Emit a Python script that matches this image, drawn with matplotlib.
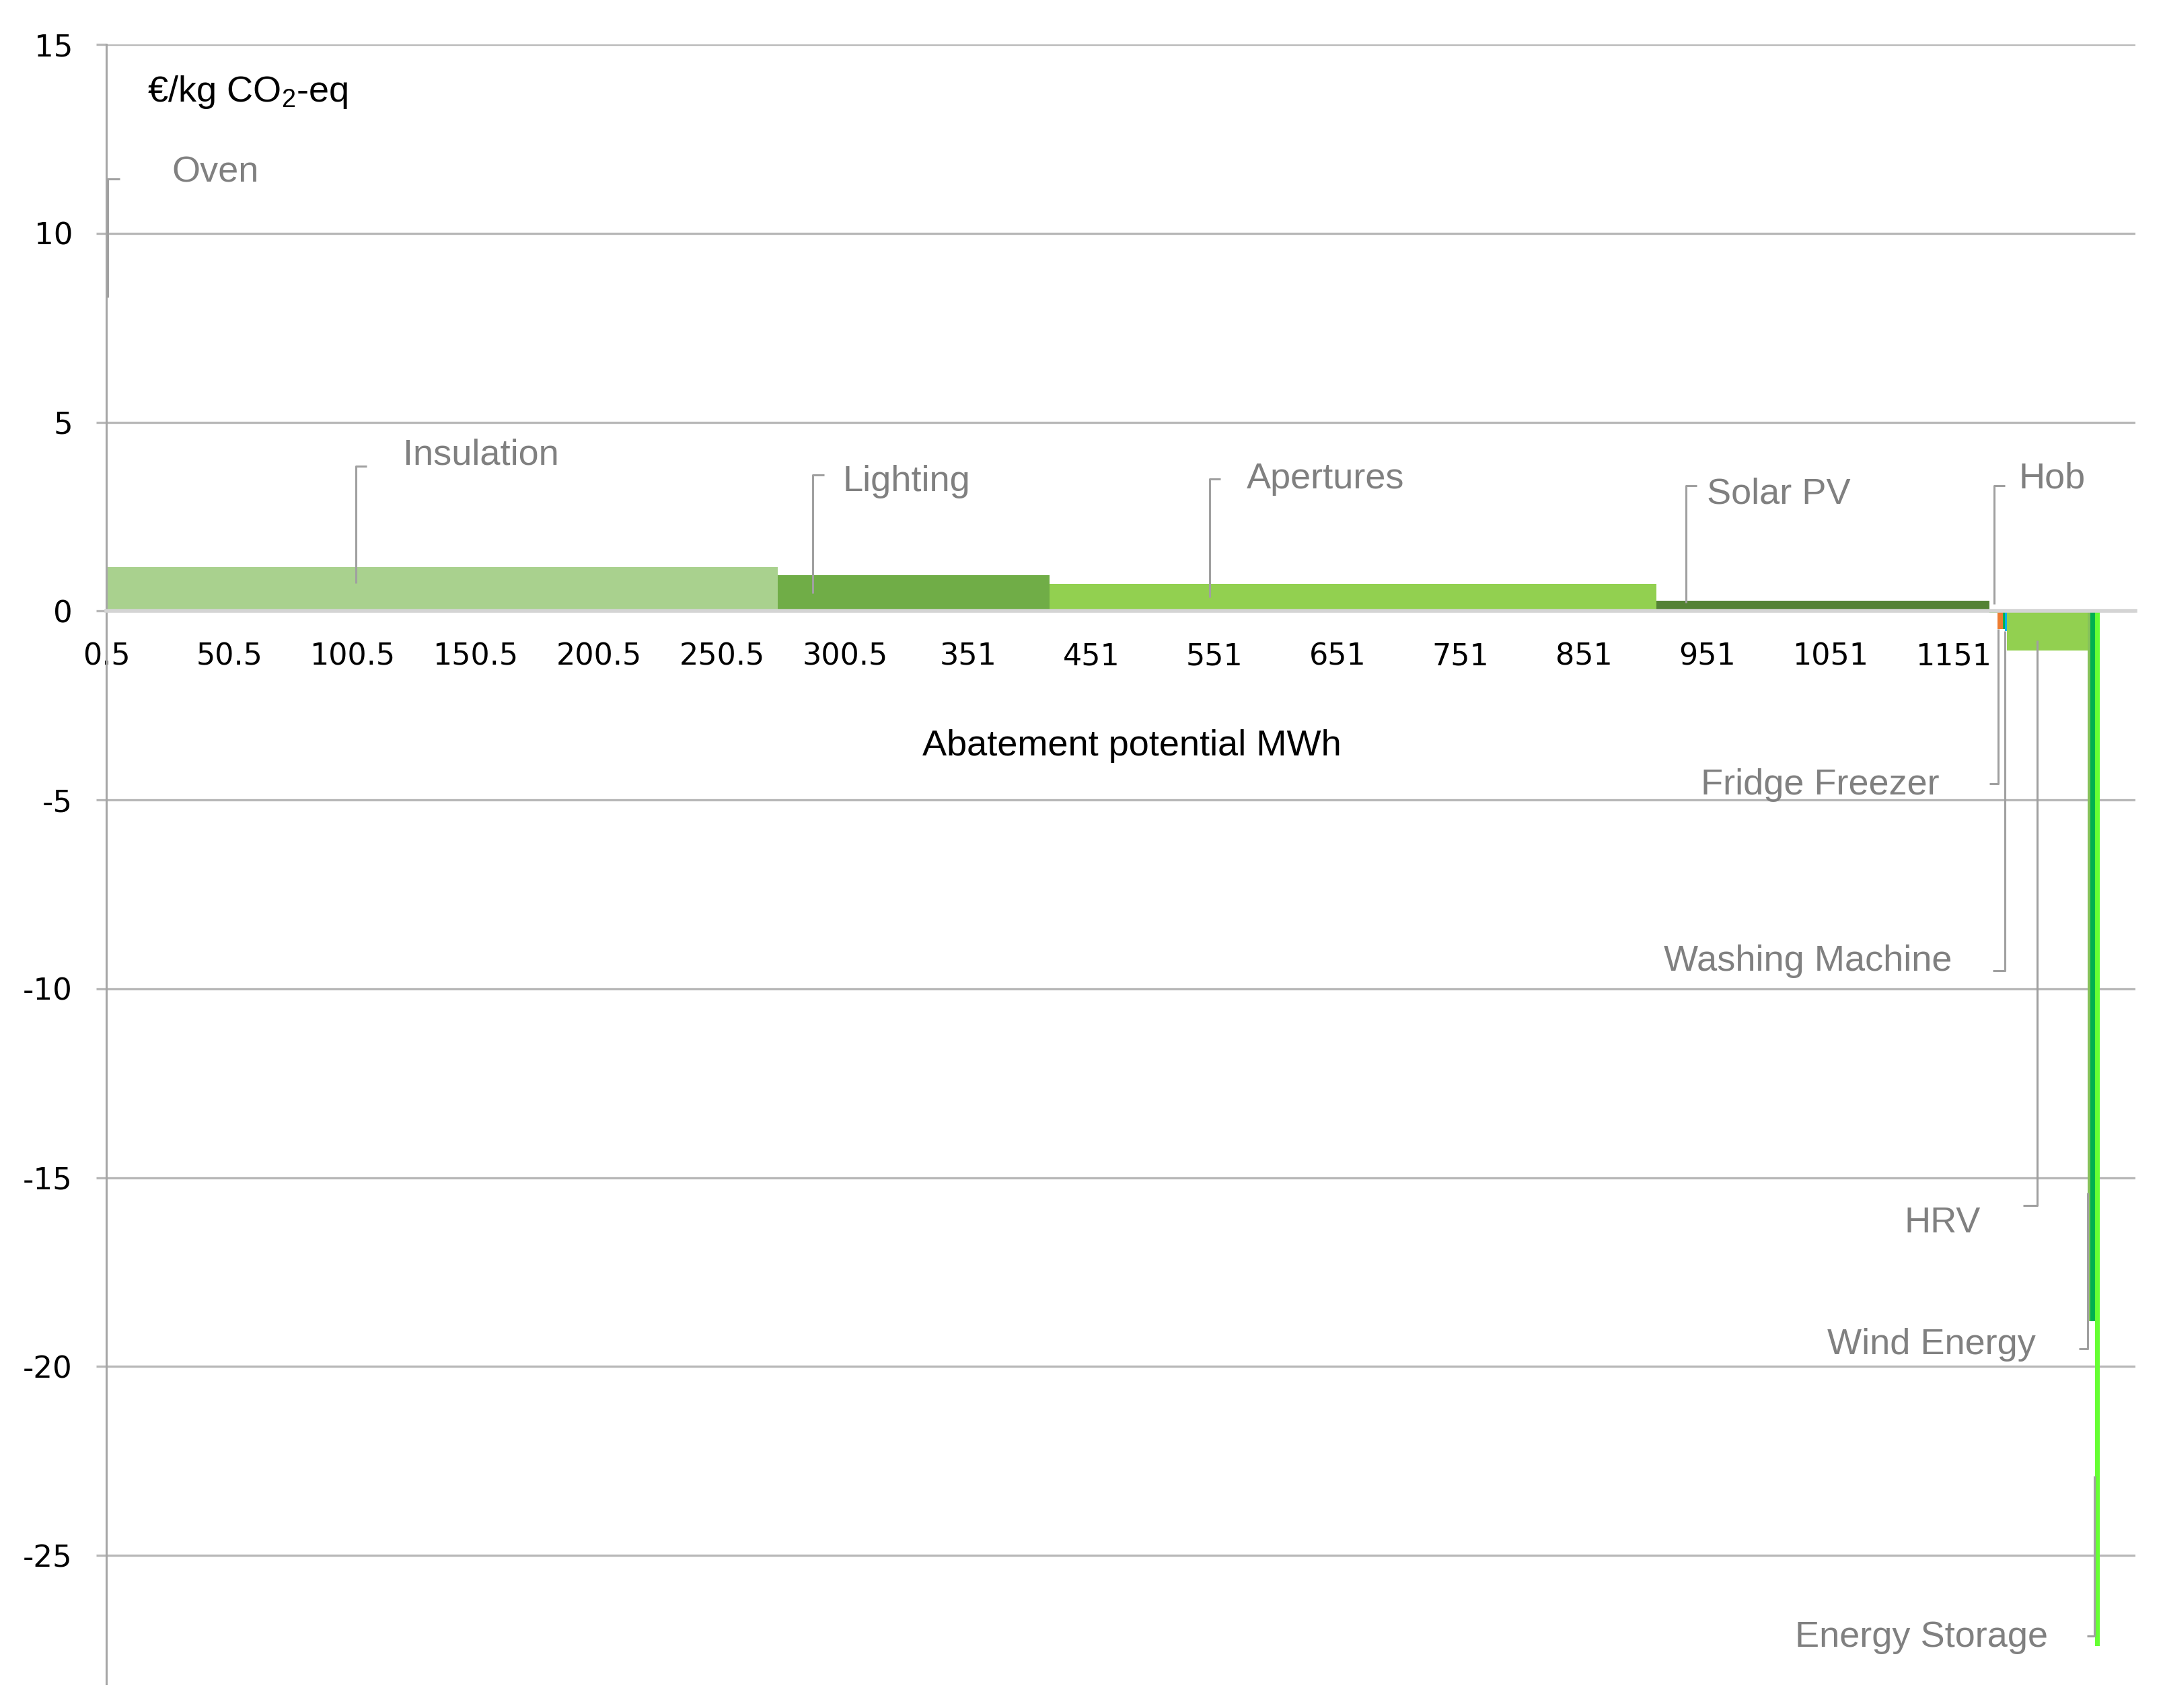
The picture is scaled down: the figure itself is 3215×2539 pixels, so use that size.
import numpy as np
import matplotlib
matplotlib.use("Agg")
import matplotlib.pyplot as plt

# ---------------- data ----------------
measures = ["Oven", "Insulation", "Lighting", "Apertures", "Solar PV", "Hob",
            "Fridge Freezer", "(other)", "Washing Machine", "HRV", "(other 2)",
            "Wind Energy", "Energy Storage"]
# widths along the (category-style) abatement axis, in tick-interval units
widths = [0.012, 5.44, 2.21, 4.93, 2.70, 0.07, 0.04, 0.016, 0.016, 0.66, 0.022, 0.035, 0.038]
# cost in EUR / kg CO2-eq
costs = [8.3, 1.17, 0.95, 0.72, 0.28, -0.05, -0.48, -0.48, -0.53, -1.05, -18.8, -18.8, -27.4]
colors = ["#8FA584", "#A9D18E", "#70AD47", "#92D050", "#548235", "#70D048",
          "#ED7D31", "#00B050", "#00B0F0", "#92D050", "#86C25A", "#00B050", "#66FF33"]

xtick_labels = ["0.5", "50.5", "100.5", "150.5", "200.5", "250.5", "300.5", "351",
                "451", "551", "651", "751", "851", "951", "1051", "1151"]
ytick_values = [15, 10, 5, 0, -5, -10, -15, -20, -25]

# label layout: name -> (text x, text y, ha, leader x, leader y0, leader y1, tick dir, tick len)
labels = {
    "Oven":            (0.53, 11.6, "left", 0.011, 8.3, 11.44, 1, 0.10),
    "Insulation":      (2.41, 4.12, "left", 2.027, 0.73, 3.83, 1, 0.09),
    "Lighting":        (5.98, 3.43, "left", 5.74, 0.47, 3.61, 1, 0.09),
    "Apertures":       (9.26, 3.50, "left", 8.96, 0.36, 3.50, 1, 0.09),
    "Solar PV":        (13.0, 3.10, "left", 12.83, 0.21, 3.31, 1, 0.09),
    "Hob":             (15.53, 3.50, "left", 15.33, 0.18, 3.31, 1, 0.09),
    "Fridge Freezer":  (14.89, -4.61, "right", 15.366, -0.48, -4.58, -1, 0.07),
    "Washing Machine": (14.99, -9.28, "right", 15.42, -0.53, -9.53, -1, 0.10),
    "HRV":             (15.22, -16.2, "right", 15.68, -0.78, -15.73, -1, 0.11),
    "Wind Energy":     (15.67, -19.43, "right", 16.09, -15.4, -19.54, -1, 0.07),
    "Energy Storage":  (15.77, -27.18, "right", 16.148, -22.9, -27.14, -1, 0.06),
}

# ---------------- style ----------------
plt.rcParams["font.family"] = ["DejaVu Sans"]
plt.rcParams["axes.unicode_minus"] = False
plt.rcParams["mathtext.default"] = "regular"

W, H, DPI = 3215, 2539, 100
fig = plt.figure(figsize=(W / DPI, H / DPI), dpi=DPI)
ax = fig.add_axes([158 / W, 1 - 2503 / H, (3174 - 158) / W, (2503 - 66) / H])

lefts = np.concatenate([[0.0], np.cumsum(widths)[:-1]])
ax.bar(lefts, costs, width=widths, align="edge", color=colors, linewidth=0, zorder=2)

ax.set_xlim(0, 16.48)
ax.set_ylim(-28.4, 15)

# grid
ax.set_yticks(ytick_values)
ax.set_yticklabels([str(v) for v in ytick_values], fontsize=32.5, color="black")
ax.yaxis.grid(True, color="#B8B8B8", linewidth=2.4, zorder=0)
ax.set_axisbelow(True)
ax.tick_params(axis="y", direction="out", length=11, width=2.4, color="#B8B8B8", pad=25)

# spines
for s in ["top", "right"]:
    ax.spines[s].set_visible(False)
ax.spines["left"].set_color("#A6A6A6")
ax.spines["left"].set_linewidth(2.2)
ax.spines["bottom"].set_position(("data", 0))
ax.spines["bottom"].set_color("#D4D4D4")
ax.spines["bottom"].set_linewidth(4)
ax.spines["bottom"].set_zorder(3)

ax.set_xticks(np.arange(len(xtick_labels)))
ax.set_xticklabels(xtick_labels, fontsize=32, color="black")
ax.tick_params(axis="x", length=0, pad=33)

# axis titles
ax.text(0.333, 13.73, r"€/kg CO$_2$-eq", fontsize=39, family="Liberation Sans",
        ha="left", va="center", color="black")
ax.text(8.33, -3.58, "Abatement potential MWh", fontsize=39, family="Liberation Sans",
        ha="center", va="center", color="black")

# data labels with leader lines
lead_col = "#A0A0A0"
for name, (tx, ty, ha, lx, ly0, ly1, tdir, tlen) in labels.items():
    ax.plot([lx, lx, lx + tdir * tlen], [ly0, ly1, ly1], color=lead_col,
            linewidth=2.2, solid_capstyle="butt", zorder=4, clip_on=False)
    ax.text(tx, ty, name, fontsize=39, family="Liberation Sans", color="#808080",
            ha=ha, va="center", zorder=5)

fig.savefig("out.png", dpi=DPI, facecolor="white")
